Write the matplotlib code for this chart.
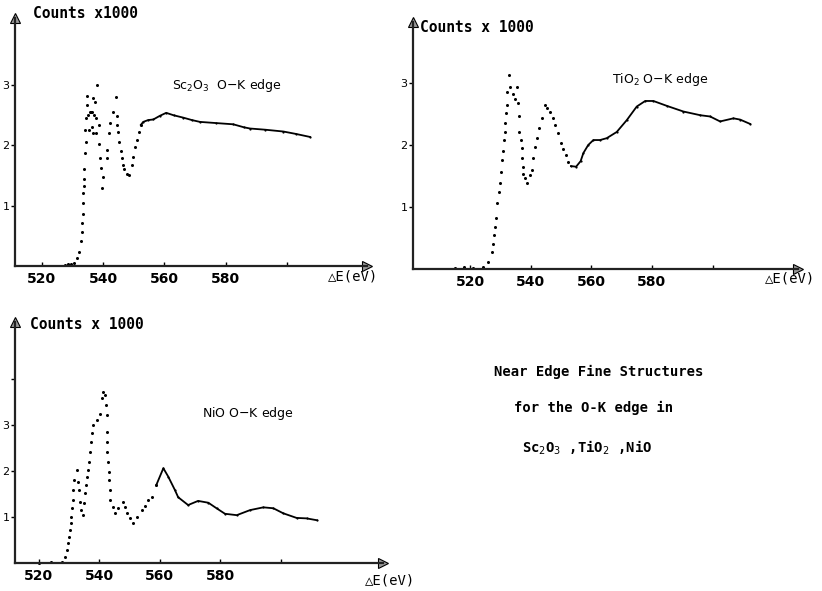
import matplotlib.pyplot as plt

# ---- Sc2O3 O-K edge (counts x1000 vs energy loss in eV) ----
sc_dot_e = [527.5, 528.5, 529.5, 530.5, 531.5, 532.1, 532.6, 533.0, 533.1, 533.3, 533.5, 533.5,
            533.7, 533.7, 533.9, 534.2, 534.3, 534.1, 534.3, 534.6, 534.6,
            535.2, 535.6, 536.0, 536.5, 537.0, 537.6, 535.4, 536.2, 536.8, 537.5,
            536.6, 537.3, 537.9, 538.7, 538.7, 539.0, 539.2, 539.8, 539.5,
            541.1, 541.1, 542.0, 542.2, 543.3, 544.1, 544.4, 544.6, 544.9, 545.3, 545.7, 546.0,
            546.4, 546.9, 547.7, 548.5, 549.3, 549.8, 550.4, 551.1, 551.7, 552.3]
sc_dot_c = [0.02, 0.04, 0.03, 0.05, 0.13, 0.24, 0.42, 0.56, 0.71, 0.87, 1.04, 1.21,
            1.32, 1.45, 1.61, 1.87, 2.06, 2.26, 2.45, 2.67, 2.82,
            2.50, 2.55, 2.56, 2.55, 2.50, 2.45, 2.25, 2.30, 2.20, 2.20,
            2.78, 2.72, 3.00, 2.34, 2.02, 1.79, 1.62, 1.47, 1.29,
            1.79, 1.92, 2.20, 2.37, 2.56, 2.81, 2.48, 2.34, 2.23, 2.06, 1.90, 1.79,
            1.68, 1.61, 1.53, 1.51, 1.68, 1.81, 1.98, 2.09, 2.23, 2.34]
sc_line_e = [552.3, 553.1, 554.7, 556.4, 558.5, 560.6, 563.0, 566.2, 569.0, 571.6, 577.0,
             582.5, 586.0, 588.0, 593.0, 598.9, 603.0, 607.6]
sc_line_c = [2.34, 2.39, 2.42, 2.43, 2.49, 2.54, 2.50, 2.46, 2.42, 2.39, 2.37,
             2.35, 2.30, 2.28, 2.26, 2.23, 2.19, 2.14]

# ---- TiO2 O-K edge ----
ti_dot_e = [515.0, 518.0, 521.0, 524.4, 526.0, 527.2, 527.7, 528.0, 528.3, 528.6, 529.0, 529.6,
            529.9, 530.2, 530.5, 531.0, 531.2, 531.5, 531.6, 531.8, 532.1, 532.3, 533.0,
            533.2, 534.1, 534.9, 535.4, 536.0, 536.2, 536.3, 536.7, 537.1, 537.1, 537.4,
            537.6, 538.2, 538.7, 539.8, 540.4, 540.9, 541.5, 542.2, 542.9, 543.7, 544.8,
            545.5, 546.4, 547.3, 548.1, 549.1, 550.0, 550.8, 551.7, 552.4]
ti_dot_c = [0.02, 0.03, 0.02, 0.04, 0.12, 0.28, 0.41, 0.55, 0.68, 0.82, 1.06, 1.25,
            1.38, 1.57, 1.76, 1.91, 2.08, 2.21, 2.35, 2.51, 2.65, 2.86, 3.13,
            2.94, 2.83, 2.75, 2.94, 2.67, 2.46, 2.21, 2.08, 1.95, 1.79, 1.65,
            1.54, 1.46, 1.38, 1.52, 1.60, 1.79, 1.97, 2.11, 2.27, 2.43, 2.65,
            2.59, 2.54, 2.43, 2.32, 2.19, 2.03, 1.93, 1.84, 1.73]
ti_line_e = [553.3, 555.0, 556.5, 557.4, 559.0, 560.7, 562.9, 565.1, 568.4, 571.7, 575.0,
             577.8, 580.5, 585.0, 590.4, 596.0, 599.2, 602.5, 606.9, 609.1, 612.4]
ti_line_c = [1.66, 1.65, 1.74, 1.87, 2.00, 2.08, 2.08, 2.11, 2.21, 2.40, 2.62,
             2.71, 2.71, 2.63, 2.54, 2.48, 2.46, 2.38, 2.43, 2.41, 2.34]

# ---- NiO O-K edge ----
ni_dot_e = [520.0, 524.0, 527.5, 528.6, 529.2, 529.7, 530.0, 530.3, 530.5, 530.6, 530.9, 531.2,
            531.4, 531.7, 532.5, 533.0, 533.4, 533.6, 533.9, 534.5, 534.9, 535.2, 535.6,
            536.0, 536.3, 536.6, 536.9, 537.2, 537.6, 538.0, 539.1, 540.2, 540.8, 541.1,
            541.9, 542.2, 542.4, 542.6, 542.6, 542.7, 542.9, 543.2, 543.3, 543.5, 543.7,
            544.4, 545.2, 546.3, 547.7, 548.5, 549.2, 550.1, 551.0, 552.4, 554.0, 555.0,
            556.2, 557.6, 558.9]
ni_dot_c = [0.01, 0.02, 0.03, 0.14, 0.28, 0.43, 0.57, 0.72, 0.86, 1.01, 1.19, 1.37,
            1.59, 1.80, 2.02, 1.77, 1.59, 1.33, 1.15, 1.04, 1.30, 1.52, 1.70,
            1.88, 2.02, 2.20, 2.42, 2.64, 2.82, 3.00, 3.11, 3.25, 3.58, 3.72,
            3.65, 3.43, 3.22, 2.85, 2.64, 2.42, 2.20, 1.98, 1.80, 1.59, 1.37,
            1.22, 1.08, 1.19, 1.33, 1.22, 1.08, 0.97, 0.86, 1.01, 1.15, 1.25,
            1.37, 1.44, 1.70]
ni_line_e = [558.9, 561.2, 562.8, 565.0, 566.1, 569.4, 572.7, 576.1, 578.8, 581.6, 585.5,
             589.9, 594.3, 597.6, 600.9, 605.3, 608.6, 612.0]
ni_line_c = [1.70, 2.06, 1.88, 1.59, 1.43, 1.26, 1.35, 1.31, 1.19, 1.07, 1.04,
             1.15, 1.21, 1.19, 1.08, 0.98, 0.97, 0.93]

x_ticks = [520, 540, 560, 580, 600]
x_labels = ['520', '540', '560', '580', '']

W, H = 822, 591
fig = plt.figure(figsize=(W / 100, H / 100), dpi=100)


def make_axes(left, top, right, bottom, xlim, ylim, yticks, ylabels):
    ax = fig.add_axes([left / W, 1 - bottom / H, (right - left) / W, (bottom - top) / H])
    ax.set_xlim(*xlim)
    ax.set_ylim(*ylim)
    for s in ['top', 'right']:
        ax.spines[s].set_visible(False)
    for s in ['left', 'bottom']:
        ax.spines[s].set_linewidth(1.6)
        ax.spines[s].set_color('#222222')
    ax.set_xticks(x_ticks)
    ax.set_xticklabels(x_labels)
    ax.set_yticks(yticks)
    ax.set_yticklabels(ylabels)
    ax.tick_params(axis='x', direction='in', length=3, width=1, pad=4, labelsize=10)
    ax.tick_params(axis='y', direction='out', length=3, width=1, pad=1, labelsize=8)
    for lab in ax.get_xticklabels():
        lab.set_fontweight('bold')
    # arrow heads on the axes
    ax.plot(1, 0, '>', ms=7, mfc='0.6', mec='k', mew=0.8, transform=ax.transAxes, clip_on=False)
    ax.plot(0, 1, '^', ms=7, mfc='0.6', mec='k', mew=0.8, transform=ax.transAxes, clip_on=False)
    return ax


def draw(ax, de, dc, le, lc):
    ax.plot(de, dc, 'o', ms=2.2, color='k', mew=0, clip_on=False)
    ax.plot(le, lc, '-', lw=1.3, color='k', marker='o', ms=1.6, mew=0)


ax1 = make_axes(15, 18, 367, 266, (511.2, 626.2), (0, 248 / 60.3), [1, 2, 3], ['1', '2', '3'])
draw(ax1, sc_dot_e, sc_dot_c, sc_line_e, sc_line_c)
ax1.text(562.4, 3.0, r'Sc$_2$O$_3$  O$-$K edge', fontsize=9, ha='left', va='center')

ax2 = make_axes(413, 22, 798, 269, (501.2, 628.2), (0, 247 / 62), [1, 2, 3], ['1', '2', '3'])
draw(ax2, ti_dot_e, ti_dot_c, ti_line_e, ti_line_c)
ax2.text(566.8, 3.05, r'TiO$_2$ O$-$K edge', fontsize=9, ha='left', va='center')

ax3 = make_axes(15, 322, 383, 563, (512.1, 633.9), (0, 241 / 46), [1, 2, 3, 4], ['1', '2', '3', ''])
draw(ax3, ni_dot_e, ni_dot_c, ni_line_e, ni_line_c)
ax3.text(573.9, 3.26, 'NiO O$-$K edge', fontsize=9, ha='left', va='center')

mono = 'DejaVu Sans Mono'
fig.text(33 / W, 1 - 14 / H, 'Counts x1000', family=mono, fontsize=10.5, fontweight='bold', va='center')
fig.text(420 / W, 1 - 27 / H, 'Counts x 1000', family=mono, fontsize=10.5, fontweight='bold', va='center')
fig.text(30 / W, 1 - 325 / H, 'Counts x 1000', family=mono, fontsize=10.5, fontweight='bold', va='center')

fig.text(328 / W, 1 - 277 / H, '△E(eV)', family=mono, fontsize=10, va='center')
fig.text(765 / W, 1 - 278 / H, '△E(eV)', family=mono, fontsize=10, va='center')
fig.text(365 / W, 1 - 580 / H, '△E(eV)', family=mono, fontsize=10, va='center')

fig.text(599 / W, 1 - 372 / H, 'Near Edge Fine Structures', family=mono, fontsize=10,
         fontweight='bold', ha='center', va='center')
fig.text(594 / W, 1 - 408 / H, 'for the O-K edge in', family=mono, fontsize=10,
         fontweight='bold', ha='center', va='center')
fig.text(587 / W, 1 - 448 / H, r'Sc$_2$O$_3$ ,TiO$_2$ ,NiO', family=mono, fontsize=10,
         fontweight='bold', ha='center', va='center')

fig.savefig('out.png', dpi=100)
